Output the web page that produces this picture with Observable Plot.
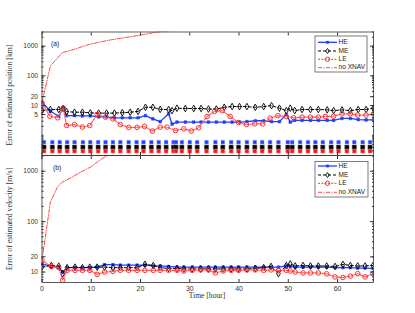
<!DOCTYPE html>
<html><head><meta charset="utf-8">
<script src="https://cdn.jsdelivr.net/npm/d3@7"></script>
<script src="https://cdn.jsdelivr.net/npm/@observablehq/plot@0.6"></script>
<style>
body{margin:0;background:#fff;}
#wrap{position:relative;width:415px;height:313px;overflow:hidden;background:#fff;}
#wrap > div{position:absolute;left:0;}
#overlay{position:absolute;left:0;top:0;}
</style></head><body><div id="wrap"></div>
<script>
// ---------- data ----------
const xTicks = [0, 10, 20, 30, 40, 50, 60];
const yTicksA = [5, 10, 20, 100, 1000];
const yTicksB = [10, 20, 100, 1000];
const minorA = [0.3,0.4,0.5,0.6,0.7,0.8,0.9,1,2,3,4,5,6,7,8,9,10,20,30,40,50,60,70,80,90,100,200,300,400,500,600,700,800,900,1000,2000,3000];
const minorB = [7,8,9,10,20,30,40,50,60,70,80,90,100,200,300,400,500,600,700,800,900,1000,2000];
const seriesNames = ["HE", "ME", "LE", "no XNAV"];

// panel (a): position error [km]
const timesA = [0,1.7,3.4,4.3,5.0,6.6,8.2,9.8,11.5,13.1,14.7,16.3,17.9,19.5,21.0,22.5,24.0,25.7,26.4,27.4,29.1,30.8,32.3,33.8,35.4,37.0,38.6,40.1,41.6,43.3,45.0,46.6,48.2,49.6,50.4,51.3,52.8,54.5,56.1,57.9,59.2,60.9,62.6,64.2,65.8,67.3];
const heA = [13,6.5,4.4,8.3,4.6,4.6,4.5,4.5,4.2,4.2,3.9,3.9,3.9,3.9,4.6,3.6,2.9,5.3,2.4,2.8,2.8,2.8,2.8,2.8,2.8,2.8,2.8,2.8,2.9,3.1,3.1,2.9,2.9,5.0,2.8,3.2,3.2,3.2,3.2,3.2,3.2,3.7,3.7,3.4,3.3,3.3];
const meA = [6.8,7.4,7.4,8.0,6.3,6.0,6.0,5.7,5.6,5.6,5.6,5.8,6.0,6.4,8.8,8.8,7.5,7.4,6.8,8.2,8.0,8.0,8.0,7.7,7.7,8.8,9.3,9.3,9.3,8.8,9.3,10,8.2,6.8,8.2,6.8,7.4,7.4,7.4,7.2,6.8,7.2,6.8,7.4,7.4,8.2];
const leTimesA = [0,1.6,3.2,4.3,5.0,6.6,8.2,9.7,11.2,12.9,14.4,15.9,17.6,19.3,20.8,22.4,24.0,25.4,27.1,28.8,30.3,31.8,33.5,35.0,36.6,38.2,39.9,41.5,43.2,44.8,46.3,47.9,49.6,51.1,52.8,54.5,56.1,57.5,59.2,60.9,62.6,64.1,65.8,67.3];
const leA = [12.3,4.4,3.9,8.3,2.15,2.3,1.9,2.15,5.0,4.1,3.6,2.3,1.85,1.85,2.0,1.4,1.9,1.9,1.45,1.65,1.4,1.8,4.3,6.4,6.8,4.3,2.7,2.3,2.45,2.45,3.8,4.6,4.3,3.9,4.1,4.1,4.1,4.3,4.4,5.3,5.3,4.8,4.8,5.3];
const noXnavTimesA = [0,1.7,4.1,6.5,9.5,13.2,17.3,20.6,23,30,40,50,60,67.3];
const noXnavA = [13,215,600,780,1140,1550,2000,2450,2930,4000,5200,6300,7200,7800];
// rows of markers at the foot of panel (a)
const rowTimes = [0.4,2.1,3.6,5.1,6.6,8.3,9.8,11.4,12.9,14.4,15.9,17.6,19.2,20.6,22.2,23.7,25.2,26.7,27.2,28.4,30.0,31.5,33.4,35.2,36.7,38.4,39.9,41.6,43.2,44.7,46.3,48.0,49.9,50.8,52.4,54.0,55.5,57.0,58.7,60.2,61.9,63.4,65.1,66.6];
const rowLevels = [0.59, 0.40, 0.295]; // HE, ME, LE

// panel (b): velocity error [m/s]
const timesB = [0,1.9,3.4,4.2,5.1,6.7,8.2,9.7,11.2,12.7,14.4,15.9,17.6,19.3,20.9,22.6,24.0,25.7,27.4,28.8,30.5,32.2,33.8,35.2,36.8,38.4,39.9,41.6,43.3,45.0,46.5,48.0,49.6,50.4,51.4,53.0,54.5,56.1,57.8,59.5,61.1,62.6,64.1,65.6,67.2];
const heB = [14.5,12.9,12.5,10,12.2,12.2,12.2,12.2,12.5,14,14,13.7,13.7,13.7,13.7,13.2,13.2,12.9,12.5,12.5,12.5,12.5,12.5,12.5,12.5,12.5,12.5,12.5,12.5,12.5,12.5,12.5,13.2,12.9,12.5,12.5,12.5,12.5,12.5,12.2,12.2,12.2,12.0,12.0,11.8];
const meB = [12.6,13.5,13.1,9.3,12.2,12.5,12.2,12.5,12.5,12.5,12.2,12.2,12.2,12.2,14.2,13.5,12.2,11.8,11.8,11.5,11.5,11.5,11.5,11.5,11.5,11.5,11.5,11.5,11.8,12.2,12.9,9.3,13.5,14.5,13.2,13.5,13.2,13.2,13.2,12.9,14.2,13.5,13.2,13.2,13.5];
const leB = [17,12.9,12.2,6.9,10.8,10.8,10.8,10.8,9.0,10,10.3,10.8,10.8,10.8,10.8,10.8,10.8,10.8,10.8,10.5,10.8,11,11,9.6,10.5,10.8,10.8,11,11,10.8,11,10.8,10.8,10.5,10,9.6,9.6,9.6,9.2,8,7.8,8.3,9.3,8,9.3];
const noXnavTimesB = [0,1.7,3.1,4.1,6.1,7.8,9.8,11.9,13.2,20,30,67.3];
const noXnavB = [17,243,480,605,760,955,1200,1700,2040,3500,5000,9000];

// ---------- styles ----------
const C = {HE:"#1f3dff", ME:"#000000", LE:"#ff2020", NX:"#ff1a1a", axis:"#333"};
const fmt = d => String(d);
const rows = (t, v) => t.map((d, i) => ({t: d, v: v[i]}));

function seriesMarks(he, me, le, nx) {
  return [
    Plot.line(he, {x:"t", y:"v", stroke:C.HE, strokeWidth:1.3, clip:true}),
    Plot.dot(he, {x:"t", y:"v", symbol:"square", r:1.5, fill:C.HE, stroke:C.HE, strokeWidth:0.5, clip:true}),
    Plot.line(me, {x:"t", y:"v", stroke:C.ME, strokeWidth:1, strokeDasharray:"3,2", clip:true}),
    Plot.dot(me, {x:"t", y:"v", symbol:"diamond", r:2.0, fill:"none", stroke:C.ME, strokeWidth:0.9, clip:true}),
    Plot.line(le, {x:"t", y:"v", stroke:"#ff5a5a", strokeWidth:1.2, strokeDasharray:"2,1.3", clip:true}),
    Plot.dot(le, {x:"t", y:"v", symbol:"circle", r:2.3, fill:"none", stroke:C.LE, strokeWidth:0.9, clip:true}),
    Plot.line(nx, {x:"t", y:"v", stroke:C.NX, strokeWidth:0.8, strokeDasharray:"4,1.5,1,1.5", clip:true})
  ];
}

function yLabels(ticks) {
  return Plot.text(ticks, {y: d => d, text: fmt, frameAnchor:"left", textAnchor:"end", dx:-4, fontSize:6.6, fill:C.axis});
}

const commonStyle = {background:"transparent", overflow:"visible", fontFamily:"'Liberation Sans', Arial, sans-serif", fontSize:"6.6px", color:C.axis};

// ---------- panel (a) ----------
const plotA = Plot.plot({
  width: 415, height: 160,
  marginLeft: 41.5, marginRight: 42, marginTop: 31.5, marginBottom: 5,
  style: commonStyle,
  x: {domain: [0, 67.3]},
  y: {type: "log", domain: [0.21, 3000]},
  marks: [
    Plot.dot(rows(rowTimes, rowTimes.map(() => rowLevels[0])), {x:"t", y:"v", symbol:"square", r:2.0, fill:C.HE, stroke:"#6b7dff", strokeWidth:0.5}),
    Plot.dot(rows(rowTimes, rowTimes.map(() => rowLevels[1])), {x:"t", y:"v", symbol:"square", r:2.4, fill:"#000", stroke:"#555", strokeWidth:0.5}),
    Plot.dot(rows(rowTimes, rowTimes.map(() => rowLevels[2])), {x:"t", y:"v", symbol:"square", r:2.2, fill:"#ff1010", stroke:"#ff8080", strokeWidth:0.5}),
    ...seriesMarks(rows(timesA, heA), rows(timesA, meA), rows(leTimesA, leA), rows(noXnavTimesA, noXnavA)),
    Plot.frame({stroke:C.axis, strokeWidth:0.8}),
    Plot.axisY(yTicksA, {anchor:"left", tickSize:-4, tickFormat:() => "", label:null}),
    yLabels(yTicksA),
    Plot.axisY(minorA, {anchor:"left", tickSize:-2, tickFormat:() => "", label:null}),
    Plot.axisY(yTicksA, {anchor:"right", tickSize:-4, tickFormat:() => "", label:null}),
    Plot.axisY(minorA, {anchor:"right", tickSize:-2, tickFormat:() => "", label:null}),
    Plot.axisX(xTicks, {anchor:"bottom", tickSize:-3, tickFormat:() => "", label:null}),
    Plot.axisX(xTicks, {anchor:"top", tickSize:-3, tickFormat:() => "", label:null}),
    Plot.text(["(a)"], {frameAnchor:"top-left", dx:9, dy:9, fontSize:6.8, fill:"#222"})
  ]
});

// ---------- panel (b) ----------
const plotB = Plot.plot({
  width: 415, height: 163,
  marginLeft: 41.5, marginRight: 42, marginTop: 5, marginBottom: 31,
  style: commonStyle,
  x: {domain: [0, 67.3]},
  y: {type: "log", domain: [6.2, 2050]},
  marks: [
    ...seriesMarks(rows(timesB, heB), rows(timesB, meB), rows(timesB, leB), rows(noXnavTimesB, noXnavB)),
    Plot.frame({stroke:C.axis, strokeWidth:0.8}),
    Plot.axisY(yTicksB, {anchor:"left", tickSize:-4, tickFormat:() => "", label:null}),
    yLabels(yTicksB),
    Plot.axisY(minorB, {anchor:"left", tickSize:-2, tickFormat:() => "", label:null}),
    Plot.axisY(yTicksB, {anchor:"right", tickSize:-4, tickFormat:() => "", label:null}),
    Plot.axisY(minorB, {anchor:"right", tickSize:-2, tickFormat:() => "", label:null}),
    Plot.axisX(xTicks, {anchor:"bottom", tickSize:-3, tickPadding:7, tickFormat:fmt, label:null, fontSize:7}),
    Plot.axisX(xTicks, {anchor:"top", tickSize:-3, tickFormat:() => "", label:null}),
    Plot.text(["(b)"], {frameAnchor:"top-left", dx:11, dy:10, fontSize:6.8, fill:"#222"})
  ]
});

const wrap = document.getElementById("wrap");
const dA = document.createElement("div"); dA.style.top = "0px"; dA.appendChild(plotA); wrap.appendChild(dA);
const dB = document.createElement("div"); dB.style.top = "150px"; dB.appendChild(plotB); wrap.appendChild(dB);

// ---------- overlay: axis titles + legends ----------
const NS = "http://www.w3.org/2000/svg";
const ov = document.createElementNS(NS, "svg");
ov.setAttribute("id", "overlay"); ov.setAttribute("width", 415); ov.setAttribute("height", 313);
wrap.appendChild(ov);
function el(tag, attrs, parent = ov) {
  const e = document.createElementNS(NS, tag);
  for (const k in attrs) e.setAttribute(k, attrs[k]);
  parent.appendChild(e); return e;
}
function txt(s, attrs) { const e = el("text", attrs); e.textContent = s; return e; }

const serif = "'Liberation Serif', 'DejaVu Serif', serif";
txt("Error of estimated position [km]", {transform:"translate(10,95) rotate(-90)", "text-anchor":"middle", "dominant-baseline":"middle", "font-family":serif, "font-size":"7.8px", fill:"#333"});
txt("Error of estimated velocity [m/s]", {transform:"translate(10,219) rotate(-90)", "text-anchor":"middle", "dominant-baseline":"middle", "font-family":serif, "font-size":"7.8px", fill:"#333"});
txt("Time [hour]", {x:207, y:298, "text-anchor":"middle", "font-family":serif, "font-size":"7.6px", fill:"#333"});

function legend(x0, y0, x1, y1, ys) {
  el("rect", {x:x0, y:y0, width:x1 - x0, height:y1 - y0, fill:"#fff", stroke:"#444", "stroke-width":0.7});
  const lx0 = x0 + 3, lx1 = x0 + 22, mx = (lx0 + lx1) / 2;
  const styles = [
    {stroke:C.HE, sw:1.3, dash:null},
    {stroke:C.ME, sw:1, dash:"3,2"},
    {stroke:"#ff5a5a", sw:1.2, dash:"2,1.3"},
    {stroke:C.NX, sw:0.8, dash:"4,1.5,1,1.5"}
  ];
  seriesNames.forEach((name, i) => {
    const y = ys[i], s = styles[i];
    const a = {x1:lx0, x2:lx1, y1:y, y2:y, stroke:s.stroke, "stroke-width":s.sw};
    if (s.dash) a["stroke-dasharray"] = s.dash;
    el("line", a);
    if (i === 0) el("rect", {x:mx - 1.4, y:y - 1.4, width:2.8, height:2.8, fill:C.HE});
    if (i === 1) el("path", {d:`M${mx},${y-2.5}L${mx+1.8},${y}L${mx},${y+2.5}L${mx-1.8},${y}Z`, fill:"none", stroke:"#000", "stroke-width":0.9});
    if (i === 2) el("circle", {cx:mx, cy:y, r:2.2, fill:"none", stroke:C.LE, "stroke-width":0.9});
    txt(name, {x:lx1 + 1.5, y:y, "dominant-baseline":"middle", "font-family":"'Liberation Sans', Arial, sans-serif", "font-size":"6.6px", fill:"#222"});
  });
}
legend(315, 36, 367, 72, [42.3, 51, 59.3, 67.7]);
legend(315, 161.5, 368, 197, [166, 175, 183.3, 192.3]);
</script>
</body></html>
